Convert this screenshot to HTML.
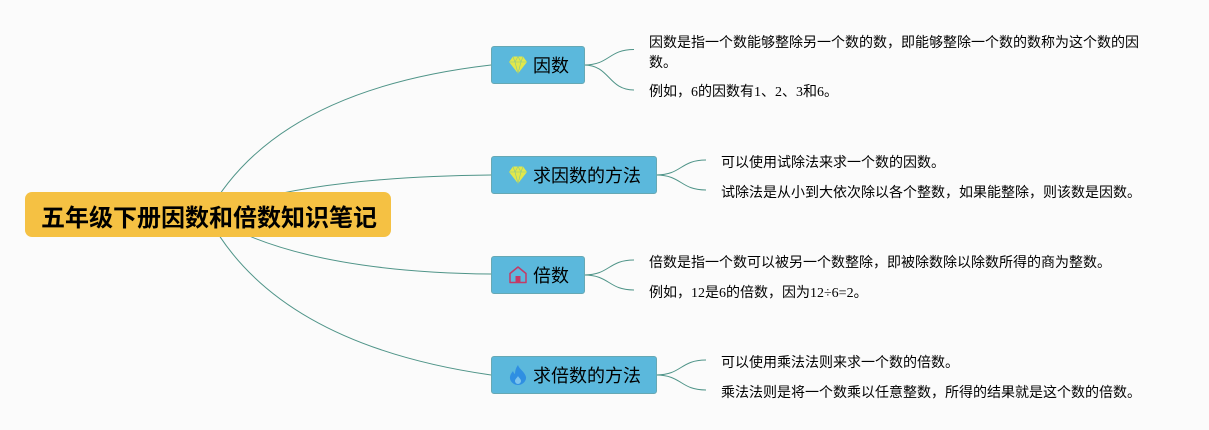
<!DOCTYPE html>
<html><head><meta charset="utf-8">
<style>
html,body{margin:0;padding:0;background:#fbfbfb}
#c{position:relative;width:1209px;height:430px;overflow:hidden;background:#fbfbfb;font-family:"Liberation Serif","WenQuanYi Zen Hei","Noto Sans CJK SC",serif;color:#000}
svg.l{position:absolute;left:0;top:0}
.t{position:absolute;background:#5bb8dc;border:1px solid #66a8b4;border-radius:3px;box-sizing:border-box;height:38px;line-height:38px;font-size:18px;padding-left:41px;white-space:nowrap}
.t svg{position:absolute;left:16px;top:8px}
.r{position:absolute;left:25px;top:192px;width:366px;height:45px;background:#f5c143;border-radius:7px;font-size:24px;font-weight:bold;padding-left:16px;box-sizing:border-box;white-space:nowrap;line-height:54px}
.x{position:absolute;font-size:14px;line-height:20px;white-space:nowrap}
</style></head><body><div id="c">
<svg class="l" width="1209" height="430" fill="none" stroke="#4f9488" stroke-width="1">
<path d="M207 215Q275 90 491 65"/>
<path d="M208 215Q298 177 491 175"/>
<path d="M208 215Q298 272 491 274"/>
<path d="M207 215Q275 344 491 375"/>
<path d="M584 65C610 65 608 49.500 634 49.500M584 65C610 65 608 90 634 90"/>
<path d="M656 175C682 175 680 160 706 160M656 175C682 175 680 190 706 190"/>
<path d="M584 275C610 275 608 260 634 260M584 275C610 275 608 290 634 290"/>
<path d="M656 375C682 375 680 360 706 360M656 375C682 375 680 390 706 390"/>
</svg>
<div class="r">五年级下册因数和倍数知识笔记</div>
<div class="t" style="left:491px;top:46px;width:94px"><svg width="20" height="20" viewBox="0 0 20 20"><path d="M5 1.500h10l4 5.500-9 11.500L1 7z" fill="#e2e84a"/><path d="M1 7h18M5 1.500L7 7l3 11.500L13 7l2-5.500M7 7l3-5.500L13 7" fill="none" stroke="#8cc88e" stroke-width=".6"/></svg>因数</div>
<div class="t" style="left:491px;top:156px;width:166px"><svg width="20" height="20" viewBox="0 0 20 20"><path d="M5 1.500h10l4 5.500-9 11.500L1 7z" fill="#e2e84a"/><path d="M1 7h18M5 1.500L7 7l3 11.500L13 7l2-5.500M7 7l3-5.500L13 7" fill="none" stroke="#8cc88e" stroke-width=".6"/></svg>求因数的方法</div>
<div class="t" style="left:491px;top:256px;width:94px"><svg width="20" height="20" viewBox="0 0 20 20"><path d="M2 17.500V8.500L10 2l8 6.500v9z" fill="none" stroke="#c43a66" stroke-width="1.500" stroke-linejoin="round"/><rect x="7.500" y="11" width="5" height="6.500" fill="#c43a66"/></svg>倍数</div>
<div class="t" style="left:491px;top:356px;width:166px"><svg width="20" height="22" viewBox="0 0 20 22" style="top:7px"><path d="M10 1c1 4 7 7 8 12 .6 4-3.500 8-8 8s-8.600-4-8-8c.4-3 2-4.500 3-6 .5 1.500 1 2.500 2 3 0-3.500 1-6.500 3-9z" fill="#2f8fe2"/><path d="M10 12c1 2 3 3 3 5 0 1.500-1.500 3-3 3s-3-1.500-3-3c0-2 2-3 3-5z" fill="#7cc4ee"/></svg>求倍数的方法</div>
<div class="x" style="left:649px;top:34px">因数是指一个数能够整除另一个数的数，即能够整除一个数的数称为这个数的因</div>
<div class="x" style="left:649px;top:54px">数。</div>
<div class="x" style="left:649px;top:83px">例如，6的因数有1、2、3和6。</div>
<div class="x" style="left:721px;top:154px">可以使用试除法来求一个数的因数。</div>
<div class="x" style="left:721px;top:184px">试除法是从小到大依次除以各个整数，如果能整除，则该数是因数。</div>
<div class="x" style="left:649px;top:254px">倍数是指一个数可以被另一个数整除，即被除数除以除数所得的商为整数。</div>
<div class="x" style="left:649px;top:284px">例如，12是6的倍数，因为12÷6=2。</div>
<div class="x" style="left:721px;top:354px">可以使用乘法法则来求一个数的倍数。</div>
<div class="x" style="left:721px;top:384px">乘法法则是将一个数乘以任意整数，所得的结果就是这个数的倍数。</div>
</div></body></html>
